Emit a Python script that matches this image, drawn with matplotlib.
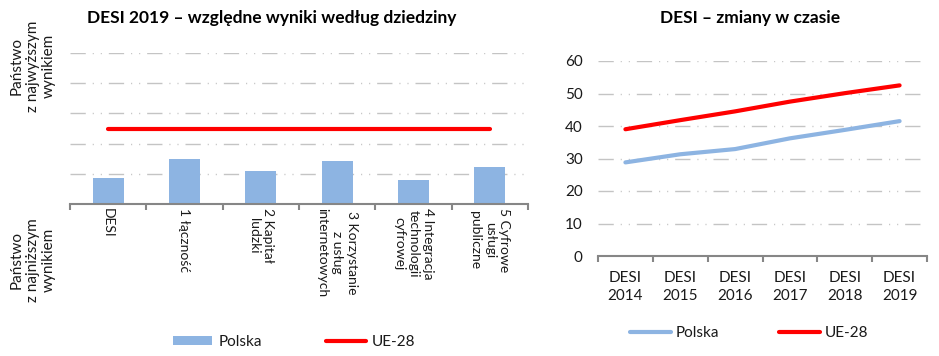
"""DESI 2019 - Polska vs UE-28: dwa wykresy obok siebie."""

import matplotlib

matplotlib.use("Agg")
import matplotlib.pyplot as plt
import numpy as np
from matplotlib.lines import Line2D
from matplotlib.patches import Patch

plt.rcParams["font.family"] = ["Lato", "DejaVu Sans"]
plt.rcParams["lines.scale_dashes"] = False

# dane - lewy wykres (wynik względny 0 = najniższy, 1 = najwyższy)
domains = [
    "DESI",
    "1 łączność",
    "2 Kapitał\nludzki",
    "3 Korzystanie\nz usług\ninternetowych",
    "4 Integracja\ntechnologii\ncyfrowej",
    "5 Cyfrowe\nusługi\npubliczne",
]
pl_relative = [0.172, 0.298, 0.219, 0.285, 0.159, 0.245]
eu_relative = [0.5, 0.5, 0.5, 0.5, 0.5, 0.5]

# dane - prawy wykres
years = ["DESI\n2014", "DESI\n2015", "DESI\n2016", "DESI\n2017", "DESI\n2018", "DESI\n2019"]
pl_desi = [28.8, 31.3, 32.9, 36.2, 38.8, 41.5]
eu_desi = [39.0, 41.8, 44.5, 47.5, 50.1, 52.5]

BLUE = "#8db4e2"
RED = "#ff0000"
AXIS = "#868686"
GRID = "#c4c4c4"
TEXT = "#1a1a1a"
GRID_DASH = (0, (11, 5, 0.8, 5, 0.8, 5))

fig = plt.figure(figsize=(9.39, 3.56), dpi=100)

# ---- lewy wykres ----
ax1 = fig.add_axes([70 / 939, 1 - 204 / 356, 458 / 939, 151 / 356])
x = np.arange(len(domains))
ax1.bar(x, pl_relative, width=0.41, color=BLUE, zorder=2)
ax1.plot(x, eu_relative, color=RED, linewidth=3, solid_capstyle="round", zorder=3)
ax1.set_xlim(-0.5, len(domains) - 0.5)
ax1.set_ylim(0, 1)
ax1.set_yticks([0.2, 0.4, 0.6, 0.8, 1.0])
ax1.yaxis.grid(True, color=GRID, linewidth=1, linestyle=GRID_DASH)
ax1.tick_params(axis="y", left=False, labelleft=False)
ax1.set_xticks(x)
ax1.set_xticklabels(domains, rotation=-90, va="top", ha="center",
                    multialignment="center", fontsize=10, color=TEXT, linespacing=1.25)
ax1.tick_params(axis="x", which="major", length=0, pad=3)
ax1.set_xticks(np.arange(-0.5, len(domains), 1), minor=True)
ax1.tick_params(axis="x", which="minor", length=4, width=1.5, color=AXIS, direction="out")

# ---- prawy wykres ----
ax2 = fig.add_axes([598 / 939, 1 - 256 / 356, 329 / 939, 195 / 356])
xr = np.arange(len(years))
ax2.plot(xr, pl_desi, color=BLUE, linewidth=3, solid_capstyle="round", zorder=3)
ax2.plot(xr, eu_desi, color=RED, linewidth=3, solid_capstyle="round", zorder=3)
ax2.set_xlim(-0.5, len(years) - 0.5)
ax2.set_ylim(0, 60)
ax2.set_yticks(np.arange(0, 61, 10))
ax2.yaxis.grid(True, color=GRID, linewidth=1, linestyle=GRID_DASH)
ax2.tick_params(axis="y", length=0, pad=11, labelsize=11, labelcolor=TEXT)
ax2.set_xticks(xr)
ax2.set_xticklabels(years, fontsize=11, color=TEXT, linespacing=1.3)
ax2.tick_params(axis="x", which="major", length=0, pad=11)
ax2.set_xticks(np.arange(-0.5, len(years), 1), minor=True)
ax2.tick_params(axis="x", which="minor", length=4, width=1.5, color=AXIS, direction="out")

for ax in (ax1, ax2):
    ax.set_axisbelow(True)
    for side in ("left", "top", "right"):
        ax.spines[side].set_visible(False)
    ax.spines["bottom"].set_color(AXIS)
    ax.spines["bottom"].set_linewidth(1.5)
    ax.spines["bottom"].set_zorder(4)

# tytuły
fig.text(272 / 939, 1 - 18 / 356, "DESI 2019 – względne wyniki według dziedziny",
         ha="center", va="center", fontsize=12.5, fontweight="bold", color="black")
fig.text(750 / 939, 1 - 18 / 356, "DESI – zmiany w czasie",
         ha="center", va="center", fontsize=12.5, fontweight="bold", color="black")

# opisy osi Y lewego wykresu
fig.text(33 / 939, 1 - 66 / 356, "Państwo\nz najwyższym\nwynikiem", rotation=90,
         ha="center", va="center", multialignment="center", fontsize=11,
         color=TEXT, linespacing=1.2)
fig.text(33 / 939, 1 - 260 / 356, "Państwo\nz najniższym\nwynikiem", rotation=90,
         ha="center", va="center", multialignment="center", fontsize=11,
         color=TEXT, linespacing=1.2)

# legendy
leg1 = fig.legend(
    handles=[Patch(facecolor=BLUE, edgecolor="none"),
             Line2D([], [], color=RED, linewidth=3, solid_capstyle="round")],
    labels=["Polska", "UE-28"], ncol=2, loc="center",
    bbox_to_anchor=(294 / 939, 1 - 342 / 356), frameon=False, fontsize=11,
    handlelength=2.6, handleheight=0.5, handletextpad=0.4, columnspacing=4.2,
)
for t in leg1.get_texts():
    t.set_color(TEXT)
leg2 = fig.legend(
    handles=[Line2D([], [], color=BLUE, linewidth=3, solid_capstyle="round"),
             Line2D([], [], color=RED, linewidth=3, solid_capstyle="round")],
    labels=["Polska", "UE-28"], ncol=2, loc="center",
    bbox_to_anchor=(749 / 939, 1 - 333 / 356), frameon=False, fontsize=11,
    handlelength=2.7, handletextpad=0.3, columnspacing=3.9,
)
for t in leg2.get_texts():
    t.set_color(TEXT)

fig.savefig("out.png", dpi=100, facecolor="white")
plt.close(fig)
